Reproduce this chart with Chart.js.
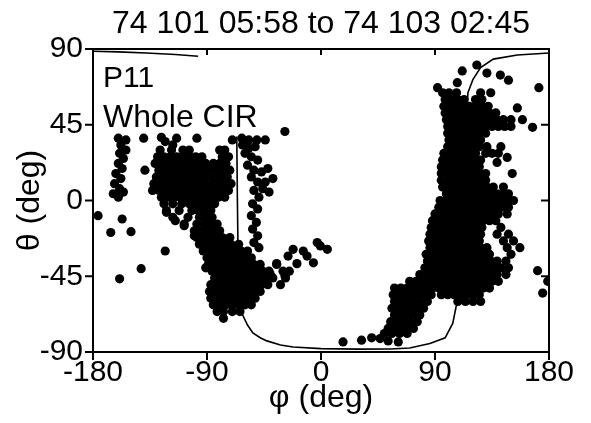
<!DOCTYPE html>
<html>
<head>
<meta charset="utf-8">
<script src="https://cdn.jsdelivr.net/npm/chart.js@4.4.1/dist/chart.umd.min.js"></script>
<style>
  body { margin: 0; background: #fff; }
  canvas { display: block; }
</style>
</head>
<body>
<canvas id="myChart" width="591" height="423"></canvas>
<script>
const titleText = '74 101 05:58 to 74 103 02:45';
const xTicks = [-180, -90, 0, 90, 180];
const yTicks = [-90, -45, 0, 45, 90];
const notes = ['P11', 'Whole CIR'];

// [phi, theta] pairs
const scattered = [
  [-183, 40], [-183, 58], [-140, 37], [-139, 18], [-176, -9], [-157, -11], [-166, -19],
  [-150, -18.5], [-123, -30], [-142, -40.5], [-159, -46.5],
  [172, 67], [155, 55], [167, 43.5], [159, 48], [147, 25.6], [139, 22.6], [151, 16], [144, 8],
  [171, -41.7], [175, -55], [179, -48],
  [17.4, -84], [32, -83], [40, -81.6], [46.7, -82], [53, -83.4], [61, -84],
  [123, 80.5], [111.5, 77], [92, 67], [107.6, 70], [141.6, 74.5], [148, 71.5], [131, 75.7]
];

const leftColumn = [
  [-160, 37], [-154, 36], [-158, 33], [-154, 30], [-159, 28], [-156, 25], [-160, 22],
  [-157, 19], [-162, 16], [-158, 13], [-163, 10], [-159, 7], [-164, 4], [-160, 2], [-156, 5]
];

const upperBlobTop = [
  [-126, 37.5], [-114, 37], [-98, 37], [-123, 35], [-117, 33], [-109, 30], [-80, 30],
  [-70, 36], [-62.5, 37], [-57, 36], [-50.6, 36], [-44, 36], [-28.5, 41]
];

// rows: [theta, [phi, ...]]
const upperBlobRows = [
  [30, [-127, -118, -104, -76]],
  [26, [-129, -124, -119, -114, -109, -104, -99, -94, -78, -73]],
  [22, [-131, -126, -121, -116, -111, -106, -101, -96, -91, -85, -80, -75]],
  [18, [-128, -123, -118, -113, -108, -103, -98, -93, -88, -83, -78, -72]],
  [14, [-130, -125, -120, -115, -110, -105, -100, -95, -90, -84, -79, -74]],
  [10, [-132, -127, -122, -117, -112, -107, -102, -97, -92, -86, -81, -76, -71]],
  [6, [-133, -128, -123, -118, -113, -108, -103, -98, -93, -88, -83, -78, -73]],
  [2, [-126, -121, -116, -111, -106, -101, -96, -91, -86, -81, -76]],
  [-2, [-124, -117, -110, -104, -99, -94, -89, -84]],
  [-6, [-122, -112, -102, -97, -92, -87]],
  [-10, [-117, -105, -96, -91, -86]],
  [-14, [-108, -98, -92, -87, -82]]
];

const lineColumn = [
  [-62, 33], [-57, 31], [-52, 32], [-60, 28], [-55, 26], [-50, 24], [-58, 21], [-53, 18],
  [-47, 17], [-42, 19], [-55, 14], [-50, 11], [-44, 11], [-38, 13], [-46, 7], [-53, 6],
  [-41, 5], [-49, 2], [-54, -2], [-50, -5], [-55, -9], [-51, -13], [-54, -17], [-50, -21],
  [-53, -25], [-49, -28]
];

const lowerBlobRows = [
  [-18, [-100, -95, -90, -85, -80]],
  [-22, [-98, -93, -88, -83, -78, -72]],
  [-26, [-96, -91, -86, -81, -76, -71, -65]],
  [-30, [-93, -88, -83, -78, -73, -68, -63, -58]],
  [-34, [-90, -85, -80, -75, -70, -65, -60, -55]],
  [-38, [-89, -83, -78, -73, -68, -63, -58, -53, -48, -35]],
  [-42, [-86, -81, -76, -71, -66, -61, -56, -51, -46, -41, -30, -25]],
  [-46, [-84, -79, -74, -69, -64, -59, -54, -49, -44, -38, -28]],
  [-50, [-87, -82, -77, -72, -67, -62, -57, -52, -47, -42, -32]],
  [-54, [-88, -83, -78, -73, -68, -63, -58, -53, -48]],
  [-58, [-87, -82, -77, -72, -67, -62, -57, -52]],
  [-62, [-85, -80, -75, -70, -65, -60, -55]],
  [-66, [-82, -77, -70, -64]],
  [-70, [-77]]
];

const rightArm = [
  [-35, -37.5], [-28.5, -44.7], [-22, -29], [-14, -30], [-3, -25], [5, -29], [-6, -37],
  [-19, -37.5], [-11, -33], [-0.5, -27], [-26, -33], [-40, -44],
  [-122, -7], [-115, -12], [-108, -15], [-100, -21], [-92, -26], [-91, -40]
];

const rightRows = [
  [64, [96, 101, 107, 126, 134]],
  [60, [98, 103, 108, 113, 122, 127]],
  [56, [97, 102, 107, 112, 117, 122, 127, 132]],
  [52, [98, 103, 108, 113, 118, 123, 128, 133, 138]],
  [48, [99, 104, 109, 114, 119, 124, 129, 134, 139, 144, 150]],
  [44, [100, 105, 110, 115, 120, 125, 130, 135, 140, 145, 150]],
  [40, [100, 105, 110, 115, 120, 125, 130]],
  [36, [101, 106, 111, 116, 121, 126]],
  [32, [100, 105, 110, 115, 120, 125, 131, 142]],
  [28, [97, 102, 107, 112, 117, 122, 130, 135, 140]],
  [24, [96, 101, 106, 111, 116, 121, 126]],
  [20, [95, 100, 105, 110, 115, 120, 125]],
  [16, [95, 100, 105, 110, 115, 120, 125, 130]],
  [12, [95, 100, 105, 110, 115, 120, 125, 130]],
  [8, [96, 101, 106, 111, 116, 121, 126, 131, 136]],
  [4, [99, 104, 109, 114, 119, 124, 129, 134, 139, 144, 148]],
  [0, [94, 99, 104, 109, 114, 119, 124, 129, 134, 139, 144, 149, 152]],
  [-4, [93, 98, 103, 108, 113, 118, 123, 128, 133, 138, 143, 148]],
  [-8, [90, 95, 100, 105, 110, 115, 120, 125, 130, 135, 140, 147]],
  [-12, [88, 93, 98, 103, 108, 113, 118, 123, 128, 133, 138]],
  [-16, [87, 92, 97, 102, 107, 112, 117, 122, 127, 142]],
  [-20, [86, 91, 96, 101, 106, 111, 116, 121, 126, 139, 148]],
  [-24, [85, 90, 95, 100, 105, 110, 115, 120, 125, 144, 152]],
  [-28, [86, 91, 96, 101, 106, 111, 116, 121, 126, 131, 147, 157]],
  [-32, [83, 88, 93, 98, 103, 108, 113, 118, 123, 128, 133, 150]],
  [-36, [84, 89, 94, 99, 104, 109, 114, 119, 124, 129, 134, 139, 146]],
  [-40, [82, 87, 92, 97, 102, 107, 112, 117, 122, 127, 132, 137, 142, 148]],
  [-44, [78, 84, 89, 94, 99, 104, 109, 114, 119, 124, 129, 134, 139, 146]],
  [-48, [70, 75, 80, 85, 90, 95, 100, 105, 110, 115, 120, 125, 130, 135, 140]],
  [-52, [58, 63, 68, 73, 78, 83, 88, 93, 98, 103, 108, 113, 118, 123, 128, 133]],
  [-56, [57, 62, 67, 72, 77, 82, 87, 95, 100, 105, 110, 115, 120, 125]],
  [-60, [58, 63, 68, 73, 78, 84, 108, 114, 120, 126]],
  [-64, [56, 61, 66, 71, 76, 81]],
  [-68, [58, 63, 68, 73, 78]],
  [-72, [55, 60, 65, 70, 76]],
  [-76, [53, 58, 63, 68, 73]],
  [-79, [50, 56, 62, 68]]
];

// model curve
const curveTop = [[-180, 88.7], [-160, 88.3], [-138, 87.6], [-115, 86.7], [-97, 85.7]];
const curveMain = [
  [-66.5, 38], [-66, 0], [-65.5, -30], [-64.5, -55], [-62.5, -67], [-58, -74], [-53.8, -78.7],
  [-48, -81.5], [-42.7, -83.4], [-32, -85.8], [-22, -87], [0, -88], [30, -88.3], [55, -88.2],
  [70, -87.6], [86, -85], [98, -81.6], [104, -73], [107.6, -59.6], [110, -40], [112, 0],
  [114, 40], [116, 64], [120, 72], [126, 79], [136, 84], [155, 86.4], [180, 87.6]
];

function pairs(list) {
  return list.map(p => ({ x: p[0], y: p[1] }));
}
function rows(list) {
  let out = [];
  list.forEach(r => r[1].forEach(phi => out.push({ x: phi, y: r[0] })));
  return out;
}

const dots = [].concat(
  pairs(scattered), pairs(leftColumn), pairs(upperBlobTop), rows(upperBlobRows),
  pairs(lineColumn), rows(lowerBlobRows), pairs(rightArm), rows(rightRows)
);

const font = 'Liberation Sans, Arial, sans-serif';

// frame, ticks, title over the plot area and the two notes
const framePlugin = {
  id: 'frame',
  afterDatasetsDraw(chart) {
    const { ctx, chartArea: a, scales } = chart;
    const t = 8;
    ctx.save();
    ctx.strokeStyle = '#000';
    ctx.lineWidth = 2;
    ctx.strokeRect(a.left, a.top, a.right - a.left, a.bottom - a.top);
    ctx.beginPath();
    xTicks.forEach(v => {
      const px = scales.x.getPixelForValue(v);
      ctx.moveTo(px, a.bottom); ctx.lineTo(px, a.bottom + t);
      ctx.moveTo(px, a.top); ctx.lineTo(px, a.top + t - 2);
    });
    yTicks.forEach(v => {
      const py = scales.y.getPixelForValue(v);
      ctx.moveTo(a.left, py); ctx.lineTo(a.left - t, py);
      ctx.moveTo(a.right, py); ctx.lineTo(a.right - t, py);
    });
    ctx.stroke();
    ctx.fillStyle = '#000';
    ctx.textBaseline = 'alphabetic';
    ctx.textAlign = 'center';
    ctx.font = '32px ' + font;
    ctx.fillText(titleText, (a.left + a.right) / 2, 33);
    ctx.textAlign = 'left';
    ctx.font = '30px ' + font;
    ctx.fillText(notes[0], a.left + 10, a.top + 38);
    ctx.font = '32px ' + font;
    ctx.fillText(notes[1], a.left + 10, a.top + 78);
    ctx.restore();
  }
};

new Chart(document.getElementById('myChart'), {
  type: 'scatter',
  data: {
    datasets: [
      {
        data: dots,
        pointRadius: 4.6,
        pointHoverRadius: 4.6,
        backgroundColor: '#000',
        borderWidth: 0,
        clip: 0
      },
      {
        data: pairs(curveTop),
        showLine: true,
        pointRadius: 0,
        borderColor: '#000',
        borderWidth: 1.6,
        clip: 0
      },
      {
        data: pairs(curveMain),
        showLine: true,
        pointRadius: 0,
        borderColor: '#000',
        borderWidth: 1.6,
        clip: 0
      }
    ]
  },
  options: {
    responsive: false,
    animation: false,
    devicePixelRatio: 1,
    layout: { padding: { left: 0, right: 42, top: 49, bottom: 0 } },
    plugins: {
      legend: { display: false },
      tooltip: { enabled: false },
      title: { display: false }
    },
    scales: {
      x: {
        min: -180, max: 180,
        afterBuildTicks: s => { s.ticks = xTicks.map(v => ({ value: v })); },
        afterFit: s => { s.height = 71; },
        grid: { display: false, drawTicks: false },
        border: { display: false },
        ticks: { color: '#000', font: { family: font, size: 30 }, padding: 3, autoSkip: false, maxRotation: 0 },
        title: { display: true, text: 'φ (deg)', color: '#000', font: { family: font, size: 32 }, padding: { top: 0, bottom: 6 } }
      },
      y: {
        min: -90, max: 90,
        afterBuildTicks: s => { s.ticks = yTicks.map(v => ({ value: v })); },
        afterFit: s => { s.width = 93; },
        grid: { display: false, drawTicks: false },
        border: { display: false },
        ticks: { color: '#000', font: { family: font, size: 30 }, padding: 10, autoSkip: false },
        title: { display: true, text: 'θ (deg)', color: '#000', font: { family: font, size: 32 }, padding: { top: 11, bottom: 0 } }
      }
    }
  },
  plugins: [framePlugin]
});
</script>
</body>
</html>
